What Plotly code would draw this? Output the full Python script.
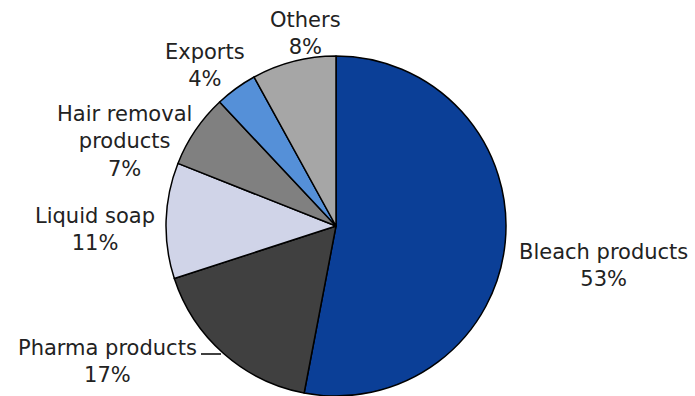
import plotly.graph_objects as go

W, H = 695, 396

categories = ["Bleach products", "Pharma products", "Liquid soap",
              "Hair removal products", "Exports", "Others"]
shares = [53, 17, 11, 7, 4, 8]
label_texts = ["Bleach products<br>53%", "Pharma products<br>17%",
               "Liquid soap<br>11%", "Hair removal<br>products<br>7%",
               "Exports<br>4%", "Others<br>8%"]
colors = ["#0B3F97", "#404040", "#D0D4E8", "#808080", "#5590D8", "#A6A6A6"]
# label centres in pixels (x, y from top)
label_pos = [(603, 265), (107, 361), (95, 229), (124, 141), (205, 65), (305, 33)]

cx, cy, R = 336, 228, 170

fig = go.Figure(go.Pie(
    labels=categories, values=shares, sort=False, direction="clockwise",
    rotation=0, textinfo="none", hoverinfo="label+percent",
    marker=dict(colors=colors, line=dict(color="black", width=1.5)),
    domain=dict(x=[(cx - R) / W, (cx + R) / W], y=[0, 2 * R / H]),
    showlegend=False,
))

for t, (px, py) in zip(label_texts, label_pos):
    fig.add_annotation(x=px / W, y=1 - py / H, xref="paper", yref="paper",
                       text=t, showarrow=False, xanchor="center", yanchor="middle",
                       align="center",
                       font=dict(family="DejaVu Sans", size=21, color="#222222"))

# leader line for Pharma products
fig.add_shape(type="line", xref="paper", yref="paper",
              x0=201 / W, x1=221 / W, y0=1 - 354 / H, y1=1 - 354 / H,
              line=dict(color="black", width=1.5))

fig.update_layout(width=W, height=H, margin=dict(l=0, r=0, t=0, b=0),
                  paper_bgcolor="white", plot_bgcolor="white")
fig.write_html("out.html")
